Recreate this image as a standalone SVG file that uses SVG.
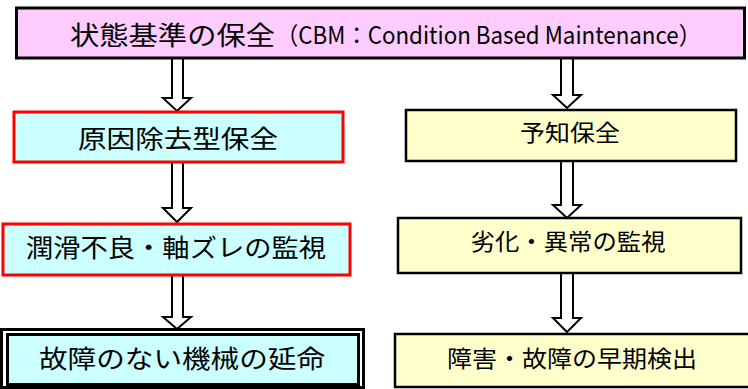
<svg xmlns="http://www.w3.org/2000/svg" width="748" height="389" viewBox="0 0 748 389">
<style>
.t{font-family:"Noto Sans CJK JP","Noto Sans CJK SC",sans-serif;fill:#000;dominant-baseline:central;text-anchor:middle}
.l{font-size:25px}
.r{font-size:23px}
.arrow{fill:#fff;stroke:#000;stroke-width:2;stroke-linejoin:miter}
.cy{fill:#CCFFFF}
.ye{fill:#FFFFCC;stroke:#000;stroke-width:2.5}
.red{stroke:#FF0000;stroke-width:3}
</style>
<rect width="748" height="389" fill="#fff"/>
<g id="connectors">
<polygon class="arrow" points="172,58 183,58 183,98 191,98 177,111 163,98 172,98"/>
<polygon class="arrow" points="172,162 183,162 183,208 191,208 177,222 163,208 172,208"/>
<polygon class="arrow" points="172,275 183,275 183,317 191,317 177,329 163,317 172,317"/>
<polygon class="arrow" points="561,58 573,58 573,95 581,95 567,108 553,95 561,95"/>
<polygon class="arrow" points="561,161 573,161 573,205 581,205 567,218 553,205 561,205"/>
<polygon class="arrow" points="561,273 573,273 573,318 581,318 567,332 553,318 561,318"/>
</g>
<g id="cbm">
<rect x="16.5" y="8" width="728" height="50" fill="#FFCCFF" stroke="#000" stroke-width="3"/>
<text class="t" y="33" style="text-anchor:start"><tspan x="70" font-size="26" textLength="205" lengthAdjust="spacingAndGlyphs">状態基準の保全</tspan><tspan x="276" font-size="24" textLength="425" lengthAdjust="spacingAndGlyphs">（CBM：Condition Based Maintenance）</tspan></text>
</g>
<g id="cause-removal">
<rect class="cy red" x="14" y="112" width="329" height="50"/>
<text class="t l" x="178" y="137" textLength="200" lengthAdjust="spacingAndGlyphs">原因除去型保全</text>
</g>
<g id="lubrication">
<rect class="cy red" x="3" y="224" width="347" height="51"/>
<text class="t l" x="176" y="246" textLength="300" lengthAdjust="spacingAndGlyphs">潤滑不良・軸ズレの監視</text>
</g>
<g id="life-extension">
<rect x="1.5" y="329.5" width="362" height="58" fill="#fff" stroke="#000" stroke-width="3"/>
<rect class="cy" x="7.5" y="334.5" width="351" height="50" stroke="#000" stroke-width="3"/>
<text class="t l" x="182" y="357" textLength="286" lengthAdjust="spacingAndGlyphs">故障のない機械の延命</text>
</g>
<g id="predictive">
<rect class="ye" x="406" y="110" width="330" height="51"/>
<text class="t r" x="570" y="131" textLength="100" lengthAdjust="spacingAndGlyphs">予知保全</text>
</g>
<g id="degradation">
<rect class="ye" x="398" y="218" width="343" height="55"/>
<text class="t r" x="568" y="240" textLength="195" lengthAdjust="spacingAndGlyphs">劣化・異常の監視</text>
</g>
<g id="early-detection">
<rect class="ye" x="395" y="334" width="360" height="53"/>
<text class="t r" x="572" y="357" textLength="250" lengthAdjust="spacingAndGlyphs">障害・故障の早期検出</text>
</g>
</svg>
